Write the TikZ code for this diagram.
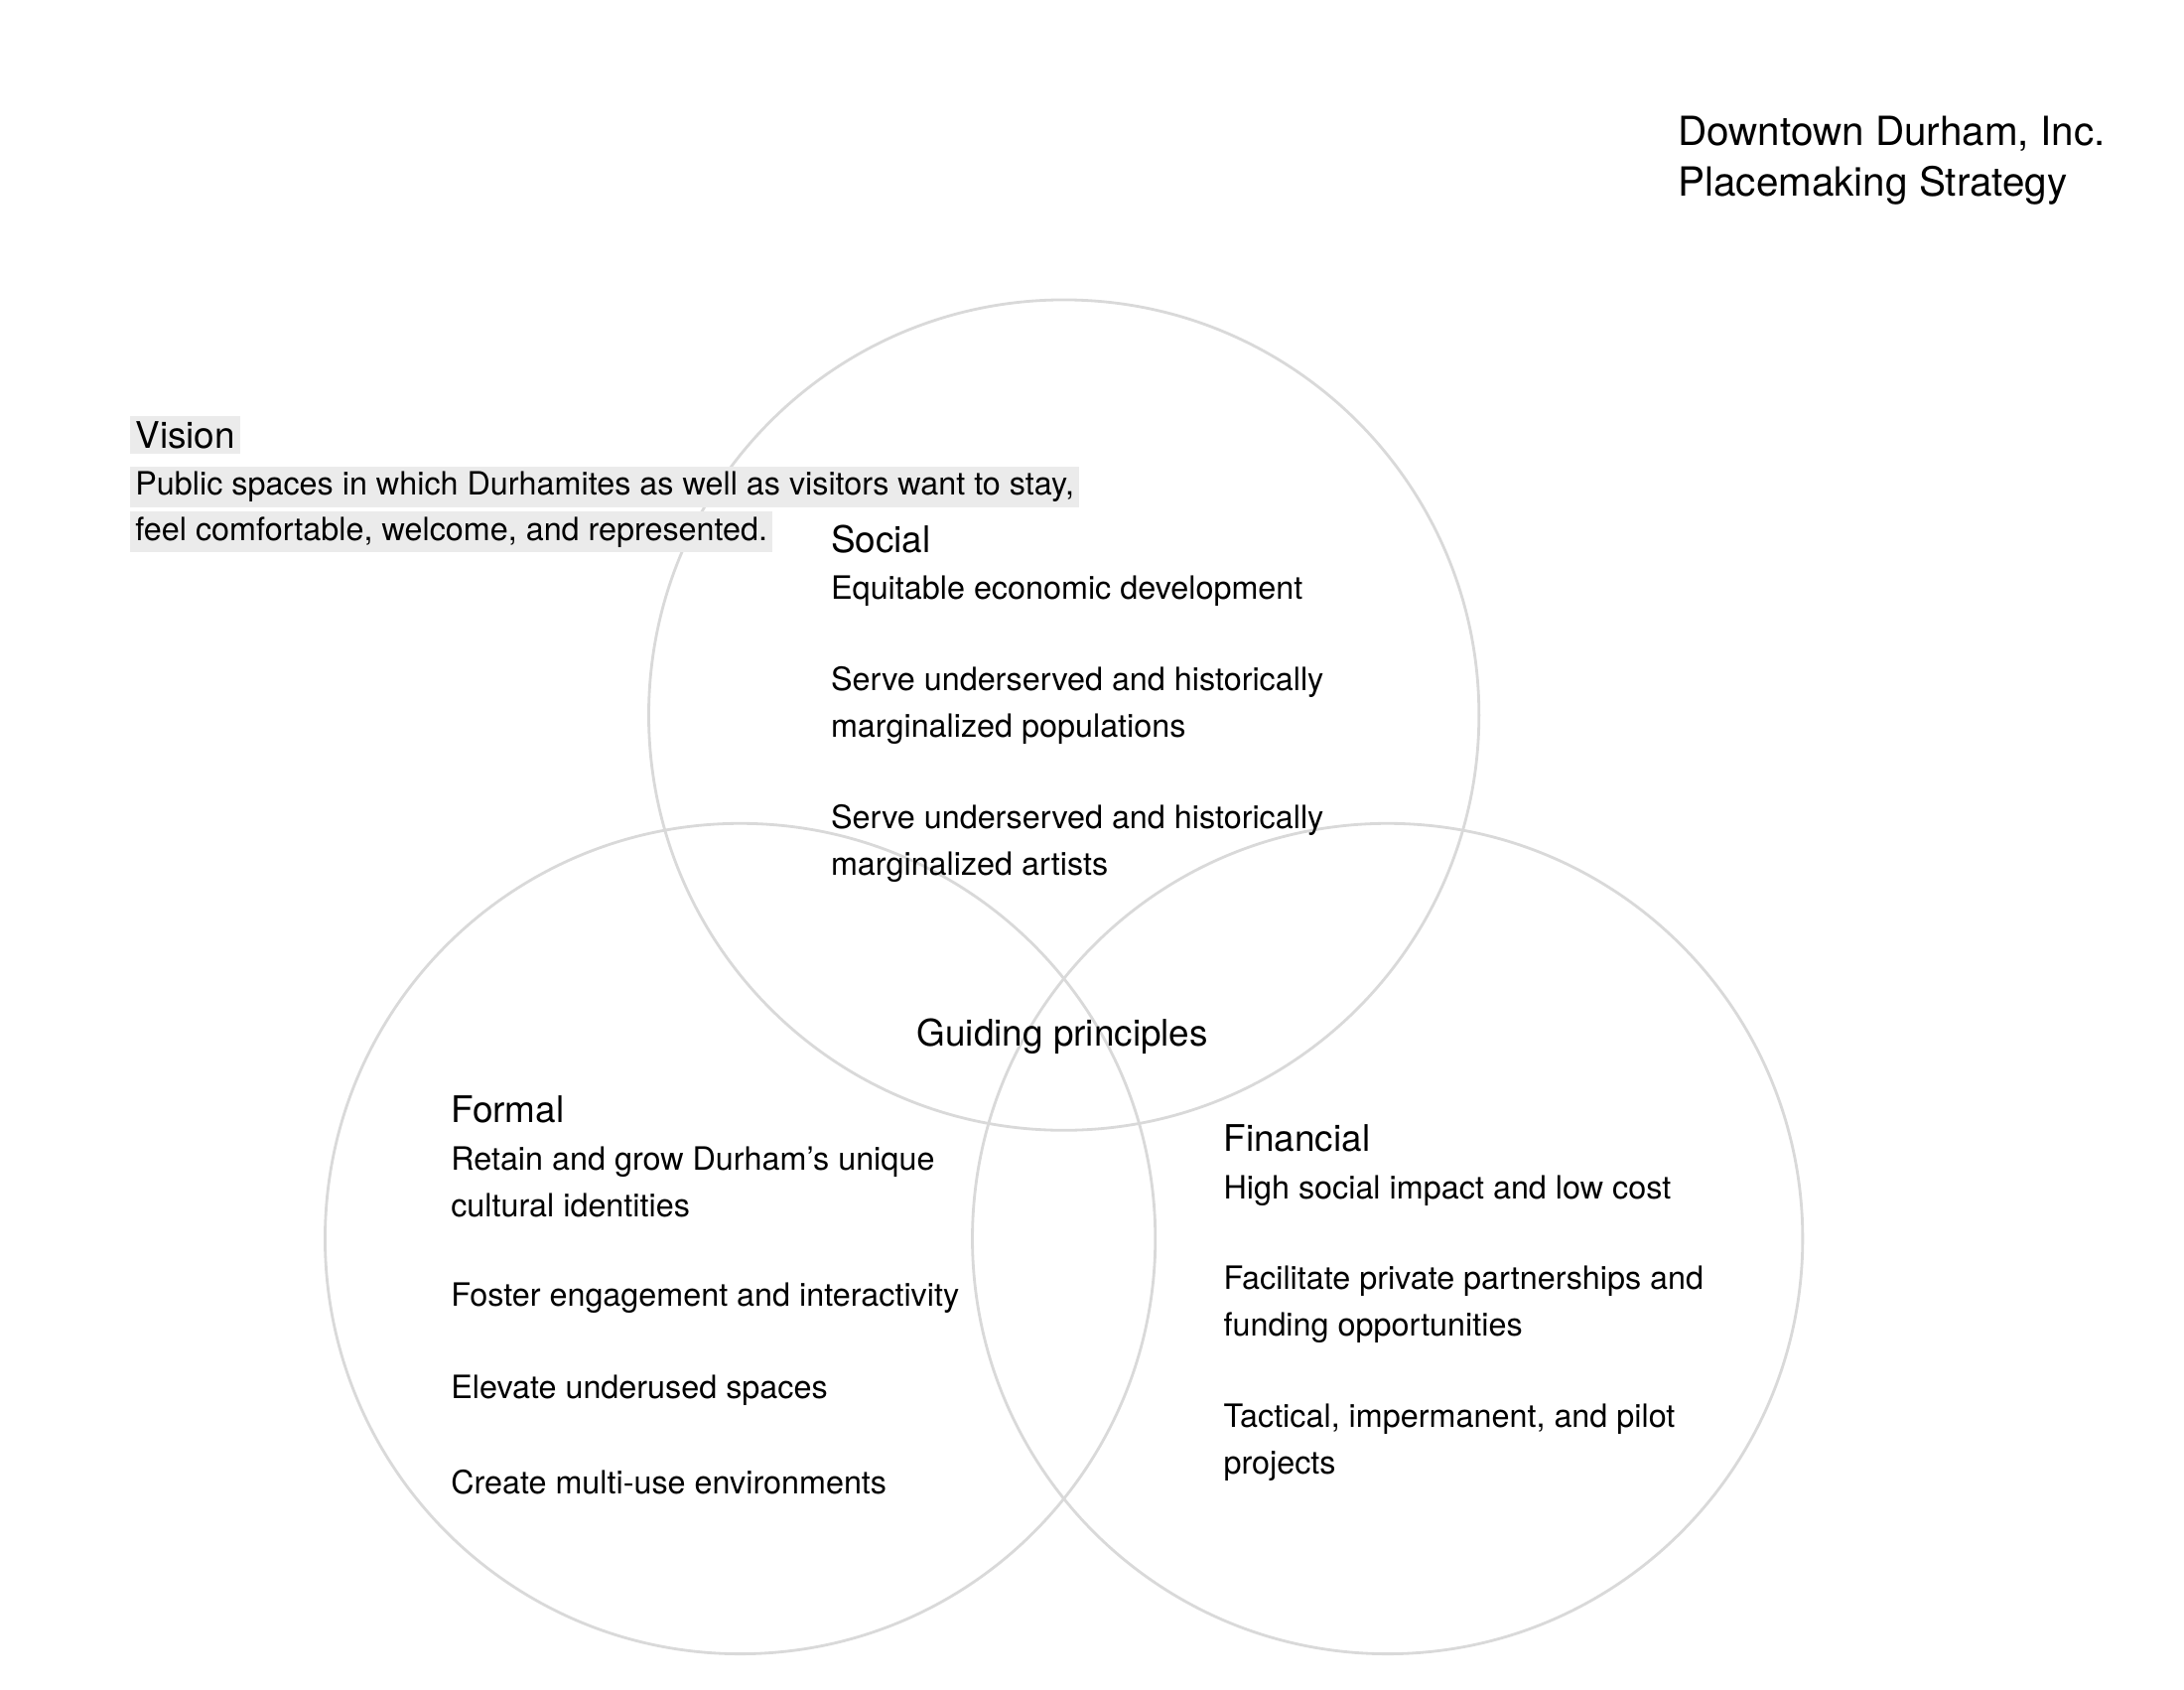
\documentclass[tikz,border=0pt]{standalone}
\usepackage{fontspec}
\setmainfont{TeX Gyre Heros}
\usetikzlibrary{positioning}
\definecolor{ringgray}{HTML}{D9D9D9}
\definecolor{hlgray}{HTML}{EBEBEB}
\tikzstyle{ring} = [draw=ringgray, line width=0.8pt]
\tikzstyle{head} = [anchor=west, inner sep=0pt, font=\fontsize{10.5}{13}\selectfont]
\tikzstyle{item} = [anchor=west, inner sep=0pt, align=left, font=\fontsize{9.2}{13.3}\selectfont]
\tikzstyle{hl} = [anchor=west, fill=hlgray, inner sep=1.5pt, font=\fontsize{9.2}{13.3}\selectfont]

\begin{document}
\begin{tikzpicture}[x=0.014175cm, y=-0.014175cm]
        \useasboundingbox (0,0) rectangle (1552,1200);
        % circles
        \draw[ring] (756,508) circle (295);
        \draw[ring] (526,880) circle (295);
        \draw[ring] (986,880) circle (295);

        % title
        \node (title) [anchor=north west, inner sep=0pt, align=left, font=\fontsize{11.5}{14.5}\selectfont] at (1192,82) {Downtown Durham, Inc.\\Placemaking Strategy};

        % vision
        \node (vis) [hl, font=\fontsize{10.5}{13}\selectfont] at (92,309) {Vision};
        \node (vis1) [hl] at (92,346) {Public spaces in which Durhamites as well as visitors want to stay,};
        \node (vis2) [hl] at (92,378) {feel comfortable, welcome, and represented.};

        % social
        \node (soc) [head] at (590,383) {Social};
        \node (soc1) [item] at (590,420) {Equitable economic development};
        \node (soc2) [item] at (590,501) {Serve underserved and historically\\marginalized populations};
        \node (soc3) [item] at (590,599) {Serve underserved and historically\\marginalized artists};

        % formal
        \node (frm) [head] at (320,788) {Formal};
        \node (frm1) [item] at (320,840) {Retain and grow Durham’s unique\\cultural identities};
        \node (frm2) [item] at (320,922) {Foster engagement and interactivity};
        \node (frm3) [item] at (320,988) {Elevate underused spaces};
        \node (frm4) [item] at (320,1053) {Create multi-use environments};

        % financial
        \node (fin) [head] at (869,809) {Financial};
        \node (fin1) [item] at (869,846) {High social impact and low cost};
        \node (fin2) [item] at (869,927) {Facilitate private partnerships and\\funding opportunities};
        \node (fin3) [item] at (869,1025) {Tactical, impermanent, and pilot\\projects};

        \node (guide) [inner sep=0pt, font=\fontsize{10.5}{13}\selectfont] at (755,736) {Guiding principles};
\end{tikzpicture}
\end{document}
